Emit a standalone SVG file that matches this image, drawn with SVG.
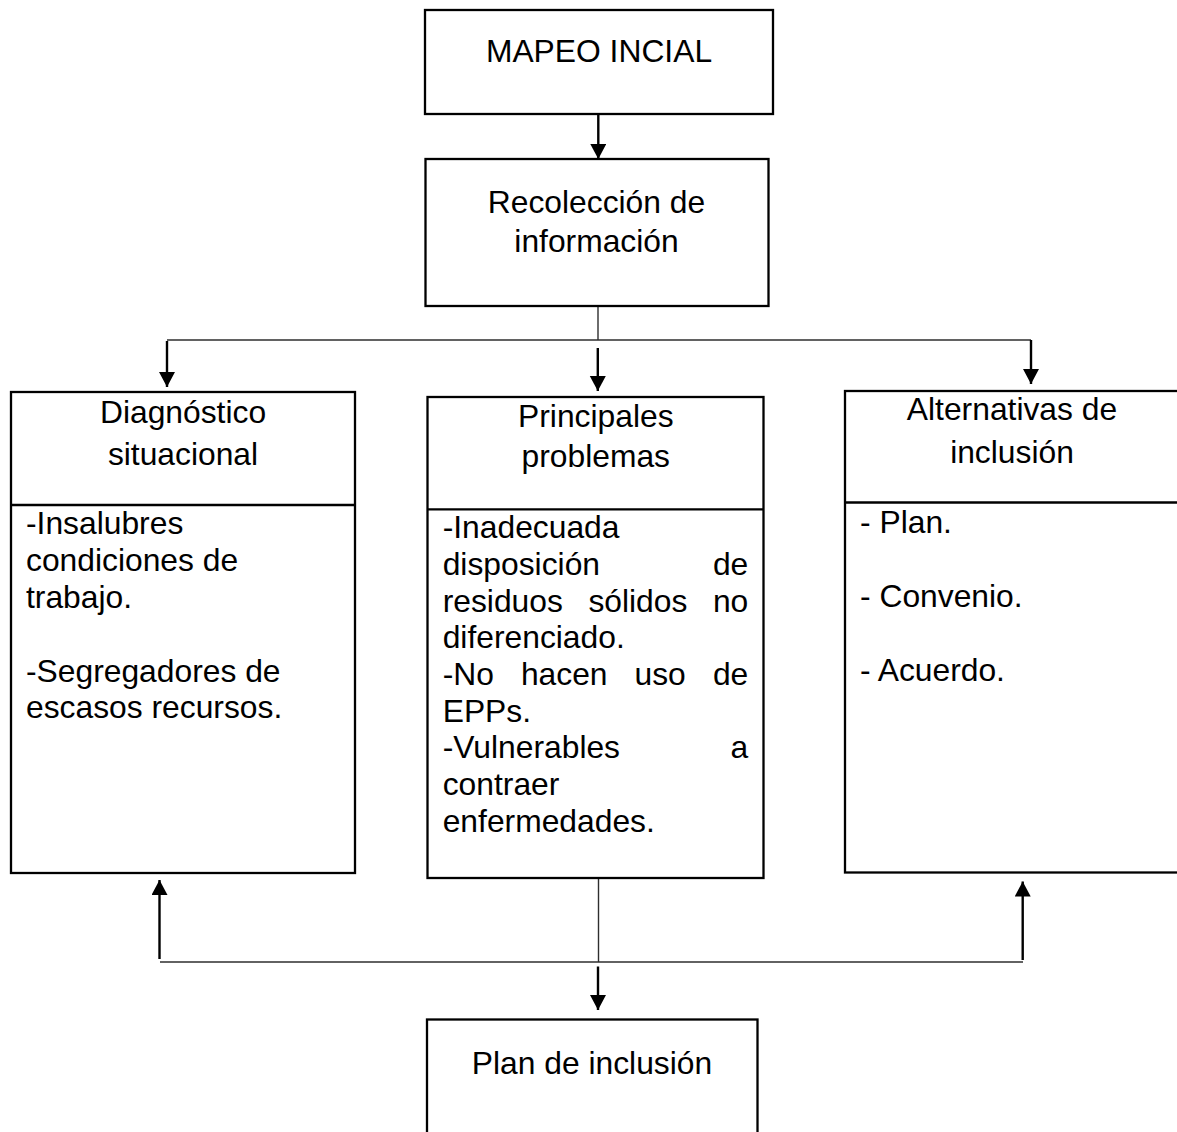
<svg xmlns="http://www.w3.org/2000/svg" width="1177" height="1132" viewBox="0 0 1177 1132">
<defs>
<style>
.box{fill:#fff;stroke:#000;stroke-width:2.3}
.t{font-family:"Liberation Sans",Arial,sans-serif;font-size:31.8px;fill:#000}
.c{text-anchor:middle}
.e{text-anchor:end}
.thin{stroke:#2e2e2e;stroke-width:1.4;fill:none}
.arr{stroke:#000;stroke-width:2.4;fill:none;marker-end:url(#ah)}
</style>
<marker id="ah" markerUnits="userSpaceOnUse" markerWidth="18" markerHeight="18" refX="15" refY="8" orient="auto" viewBox="0 0 18 18">
<path d="M0,0 L15,8 L0,16 z" fill="#000"/>
</marker>
</defs>
<rect width="1177" height="1132" fill="#fff"/>

<g id="connectors">
<line class="arr" x1="598.3" y1="114" x2="598.3" y2="159"/>
<line class="thin" x1="598" y1="306" x2="598" y2="340"/>
<line class="thin" x1="167" y1="340" x2="1031" y2="340"/>
<line class="arr" x1="167" y1="341" x2="167" y2="387"/>
<line class="arr" x1="597.8" y1="348" x2="597.8" y2="391"/>
<line class="arr" x1="1031" y1="340" x2="1031" y2="384"/>
<line class="thin" x1="598.5" y1="879" x2="598.5" y2="962"/>
<line class="thin" x1="160" y1="962" x2="1023" y2="962"/>
<line class="arr" x1="159.5" y1="959" x2="159.5" y2="880"/>
<line class="arr" x1="1022.7" y1="960" x2="1022.7" y2="881.5"/>
<line class="arr" x1="598" y1="966.5" x2="598" y2="1010"/>
</g>

<g id="mapeo">
<rect class="box" x="425" y="10" width="348" height="104"/>
<text class="t c" x="599" y="62">MAPEO INCIAL</text>
</g>

<g id="recoleccion">
<rect class="box" x="425.5" y="159" width="343" height="147"/>
<text class="t c" x="596.5" y="213">Recolección de</text>
<text class="t c" x="596.5" y="252">información</text>
</g>

<g id="diagnostico">
<rect class="box" x="11" y="392" width="344" height="481"/>
<line stroke="#000" stroke-width="2.3" x1="11" y1="505" x2="355" y2="505"/>
<text class="t c" x="183" y="423">Diagnóstico</text>
<text class="t c" x="183" y="465">situacional</text>
<text class="t" x="26" y="534.3">-Insalubres</text>
<text class="t" x="26" y="571.3">condiciones de</text>
<text class="t" x="26" y="608">trabajo.</text>
<text class="t" x="26" y="681.6">-Segregadores de</text>
<text class="t" x="26" y="718.3">escasos recursos.</text>
</g>

<g id="problemas">
<rect class="box" x="427.5" y="397" width="336" height="481"/>
<line stroke="#000" stroke-width="2.3" x1="427.5" y1="509.3" x2="763.5" y2="509.3"/>
<text class="t c" x="595.8" y="426.7">Principales</text>
<text class="t c" x="595.8" y="467">problemas</text>
<text class="t" x="442.7" y="538.3">-Inadecuada</text>
<text class="t" x="442.7" y="575">disposición</text>
<text class="t e" x="748.3" y="575">de</text>
<text class="t" x="442.7" y="611.7">residuos</text>
<text class="t" x="588.4" y="611.7">sólidos</text>
<text class="t e" x="748.3" y="611.7">no</text>
<text class="t" x="442.7" y="648.3">diferenciado.</text>
<text class="t" x="442.7" y="685">-No</text>
<text class="t" x="520.9" y="685">hacen</text>
<text class="t" x="634.5" y="685">uso</text>
<text class="t e" x="748.3" y="685">de</text>
<text class="t" x="442.7" y="721.7">EPPs.</text>
<text class="t" x="442.7" y="758.3">-Vulnerables</text>
<text class="t e" x="748.3" y="758.3">a</text>
<text class="t" x="442.7" y="795">contraer</text>
<text class="t" x="442.7" y="831.7">enfermedades.</text>
</g>

<g id="alternativas">
<rect class="box" x="845" y="391" width="336" height="481.5"/>
<line stroke="#000" stroke-width="2.3" x1="845" y1="502.5" x2="1181" y2="502.5"/>
<text class="t c" x="1012" y="420">Alternativas de</text>
<text class="t c" x="1012" y="462.7">inclusión</text>
<text class="t" x="860" y="532.7">- Plan.</text>
<text class="t" x="860" y="606.7">- Convenio.</text>
<text class="t" x="860" y="680.7">- Acuerdo.</text>
</g>

<g id="plan">
<rect class="box" x="427" y="1019.5" width="330.5" height="130"/>
<text class="t c" x="592" y="1074">Plan de inclusión</text>
</g>
</svg>
